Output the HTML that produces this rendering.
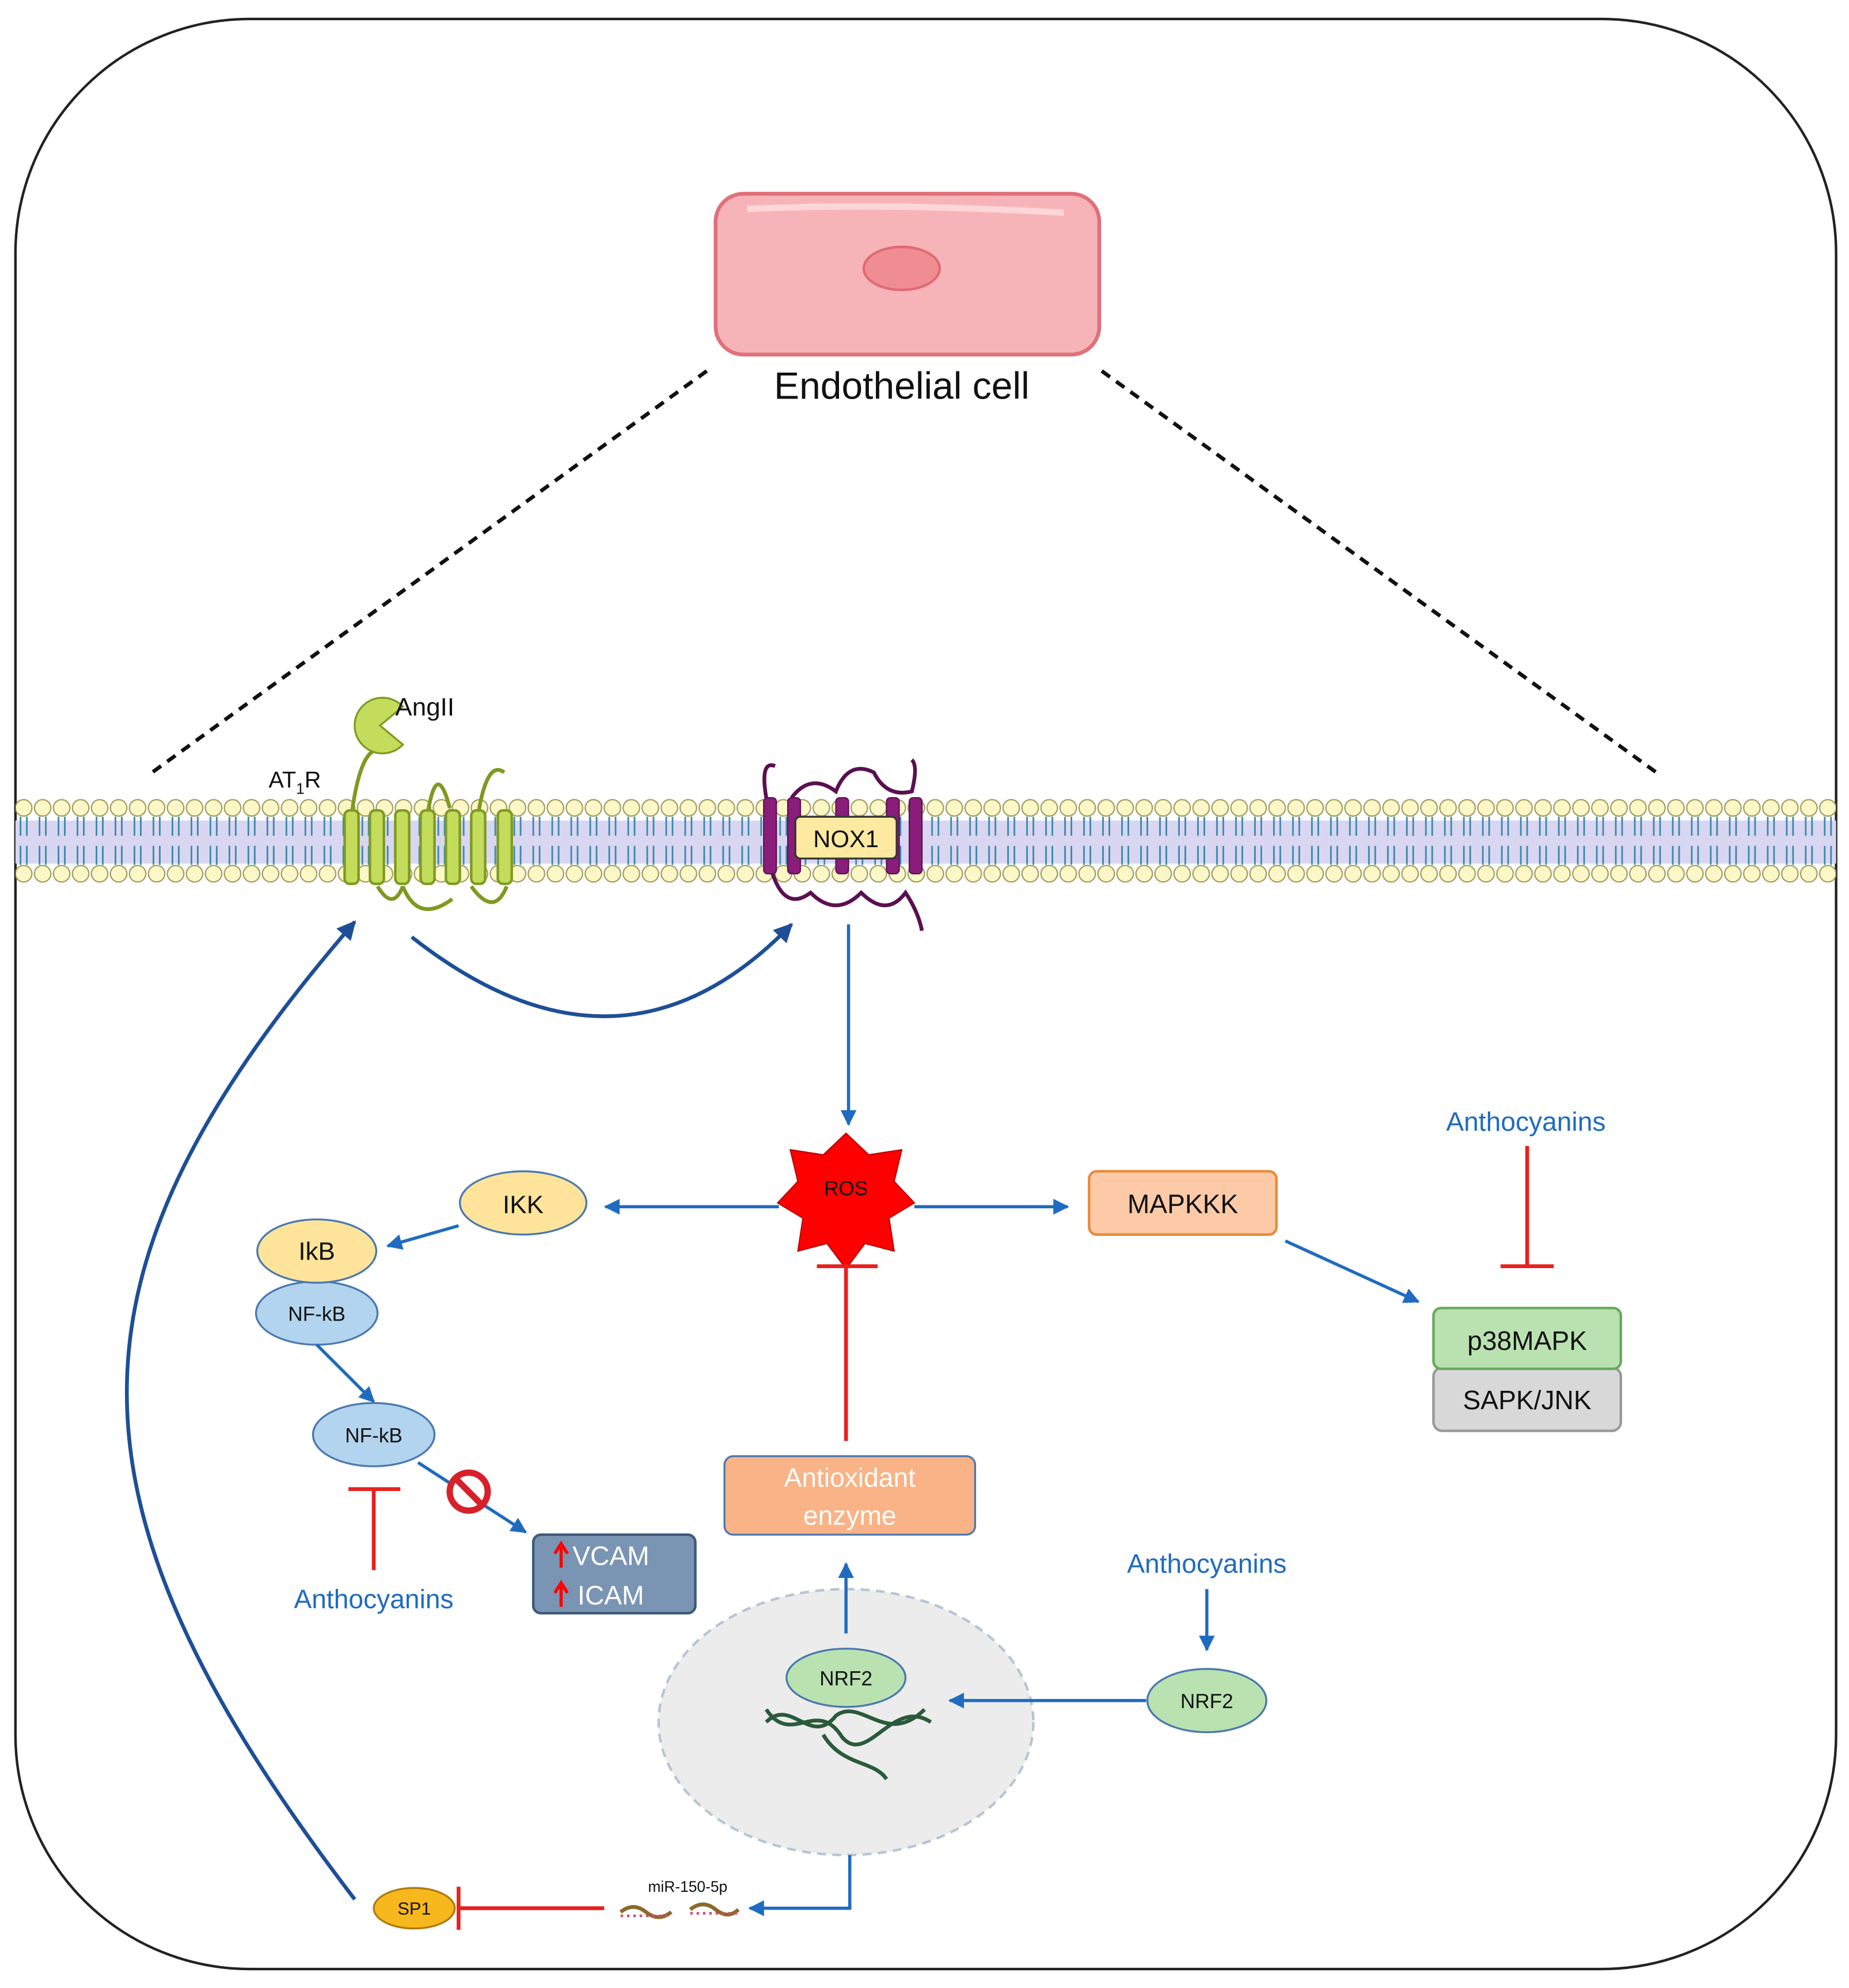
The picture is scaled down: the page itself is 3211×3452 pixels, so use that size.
<!DOCTYPE html>
<html><head><meta charset="utf-8"><style>html,body{margin:0;padding:0;background:#fff}svg{display:block}</style></head>
<body>
<svg width="3211" height="3452" viewBox="0 0 1460 1570" xmlns="http://www.w3.org/2000/svg" font-family="'Liberation Sans', sans-serif">
<defs>
<marker id="ab" viewBox="0 0 10 10" refX="9" refY="5" markerWidth="5" markerHeight="5" orient="auto"><path d="M0,0 L10,5 L0,10 z" fill="#1f6bc0"/></marker>
<marker id="ad" viewBox="0 0 10 10" refX="9" refY="5" markerWidth="5" markerHeight="5" orient="auto"><path d="M0,0 L10,5 L0,10 z" fill="#1e4f96"/></marker>
<pattern id="heads" x="11" y="630" width="15" height="80" patternUnits="userSpaceOnUse">
<circle cx="7.5" cy="8" r="6.5" fill="#fbf7c6" stroke="#a09a5a" stroke-width="1"/>
<circle cx="7.5" cy="60" r="6.5" fill="#fbf7c6" stroke="#a09a5a" stroke-width="1"/>
<path d="M5,15 V30 M10,15 V30 M5,38 V53 M10,38 V53" stroke="#3a8aa8" stroke-width="1.3"/>
</pattern>
</defs>
<rect x="12" y="15" width="1438" height="1540" rx="185" fill="#fff" stroke="#222" stroke-width="2"/>
<!-- cell -->
<rect x="565" y="153" width="303" height="127" rx="22" fill="#f7b4b8" stroke="#e0707a" stroke-width="3"/>
<path d="M590,165 Q700,160 840,168" stroke="#fcd6d8" stroke-width="5" fill="none"/>
<ellipse cx="712" cy="212" rx="30" ry="17" fill="#ef8d93" stroke="#e06a74" stroke-width="2"/>
<text x="712" y="315" font-size="30" text-anchor="middle" fill="#111">Endothelial cell</text>
<path d="M558,293 L120,610 M870,293 L1308,610" stroke="#111" stroke-width="3" stroke-dasharray="8,6"/>
<!-- membrane -->
<rect x="12" y="648" width="1438" height="34" fill="#d9d6f2"/>
<rect x="12" y="630" width="1438" height="80" fill="url(#heads)"/>
<!-- AT1R -->
<g fill="#c4dc5c" stroke="#7e9a20" stroke-width="2">
<rect x="272" y="640" width="11" height="58" rx="4"/><rect x="292" y="640" width="11" height="58" rx="4"/><rect x="312" y="640" width="11" height="58" rx="4"/><rect x="332" y="640" width="11" height="58" rx="4"/><rect x="352" y="640" width="11" height="58" rx="4"/><rect x="372" y="640" width="11" height="58" rx="4"/><rect x="393" y="640" width="11" height="58" rx="4"/>
</g>
<path d="M278,640 Q285,590 300,592 M298,700 Q310,720 318,700 M338,640 Q345,600 355,638 M318,700 Q330,730 357,710 M378,640 Q385,600 398,610 M372,700 Q390,725 400,700" fill="none" stroke="#7e9a20" stroke-width="3"/>
<path d="M300,573 L318,558 A22,22 0 1,0 318,588 Z" fill="#c4dc5c" stroke="#7e9a20" stroke-width="1.5"/>
<text x="312" y="565" font-size="20" fill="#111">AngII</text>
<text x="212" y="622" font-size="18" fill="#111">AT<tspan font-size="12" dy="5">1</tspan><tspan dy="-5">R</tspan></text>
<!-- NOX1 -->
<g fill="#8a1d7a" stroke="#5a1050" stroke-width="1">
<rect x="603" y="630" width="10" height="60" rx="3"/><rect x="622" y="630" width="10" height="60" rx="3"/><rect x="660" y="630" width="10" height="60" rx="3"/><rect x="700" y="630" width="10" height="60" rx="3"/><rect x="718" y="630" width="10" height="60" rx="3"/>
</g>
<path d="M605,630 Q600,600 612,605 M625,630 Q640,610 660,625 Q670,600 690,610 Q700,630 720,625 Q725,605 720,600 M610,690 Q620,720 640,705 Q660,725 680,705 Q700,725 715,705 Q725,720 728,735" fill="none" stroke="#5a1050" stroke-width="3"/>
<rect x="628" y="645" width="80" height="33" rx="4" fill="#fde9a0" stroke="#333" stroke-width="1.5"/>
<text x="668" y="669" font-size="19" text-anchor="middle" fill="#111">NOX1</text>
<!-- arrows -->
<path d="M325,740 Q490,870 625,730" fill="none" stroke="#1e4f96" stroke-width="3" marker-end="url(#ad)"/>
<path d="M670,730 V888" stroke="#1f6bc0" stroke-width="2.5" marker-end="url(#ab)"/>
<path d="M280,1500 C35,1180 45,1000 280,728" fill="none" stroke="#1e4f96" stroke-width="3" marker-end="url(#ad)"/>
<!-- ROS -->
<polygon points="668,895 686,912 712,908 706,933 722,950 702,962 706,988 683,982 668,1002 653,982 630,988 634,962 614,950 630,933 624,908 650,912" fill="#f00" stroke="#b00" stroke-width="1"/>
<text x="668" y="944" font-size="16" text-anchor="middle" fill="#111">ROS</text>
<path d="M615,953 H478" stroke="#1f6bc0" stroke-width="2.5" marker-end="url(#ab)"/>
<path d="M722,953 H843" stroke="#1f6bc0" stroke-width="2.5" marker-end="url(#ab)"/>
<ellipse cx="413" cy="950" rx="50" ry="25" fill="#fde49a" stroke="#4a78b0" stroke-width="1.5"/>
<text x="413" y="958" font-size="20" text-anchor="middle" fill="#111">IKK</text>
<rect x="860" y="925" width="148" height="50" rx="6" fill="#fdcaa8" stroke="#e88a3a" stroke-width="2"/>
<text x="934" y="958" font-size="21" text-anchor="middle" fill="#111">MAPKKK</text>
<path d="M1015,980 L1120,1028" stroke="#1f6bc0" stroke-width="2.5" marker-end="url(#ab)"/>
<rect x="1132" y="1080" width="148" height="50" rx="7" fill="#d8d8d8" stroke="#999" stroke-width="2"/>
<rect x="1132" y="1033" width="148" height="48" rx="6" fill="#b9e2b0" stroke="#6aa85e" stroke-width="2"/>
<text x="1206" y="1066" font-size="21" text-anchor="middle" fill="#111">p38MAPK</text>
<text x="1206" y="1113" font-size="21" text-anchor="middle" fill="#111">SAPK/JNK</text>
<text x="1205" y="893" font-size="21" text-anchor="middle" fill="#1f6bc0">Anthocyanins</text>
<path d="M1206,905 V1000 M1185,1000 H1227" stroke="#e8201e" stroke-width="3"/>
<!-- NF-kB pathway -->
<path d="M362,968 L306,984" stroke="#1f6bc0" stroke-width="2.5" marker-end="url(#ab)"/>
<ellipse cx="250" cy="1037" rx="48" ry="25" fill="#b3d4ee" stroke="#4a78b0" stroke-width="1.5"/>
<text x="250" y="1043" font-size="16" text-anchor="middle" fill="#111">NF-kB</text>
<ellipse cx="250" cy="988" rx="47" ry="25" fill="#fde49a" stroke="#4a78b0" stroke-width="1.5"/>
<text x="250" y="995" font-size="20" text-anchor="middle" fill="#111">IkB</text>
<path d="M250,1062 L295,1107" stroke="#1f6bc0" stroke-width="2.5" marker-end="url(#ab)"/>
<ellipse cx="295" cy="1133" rx="48" ry="25" fill="#b3d4ee" stroke="#4a78b0" stroke-width="1.5"/>
<text x="295" y="1139" font-size="16" text-anchor="middle" fill="#111">NF-kB</text>
<path d="M330,1155 L415,1210" stroke="#1f6bc0" stroke-width="2.5" marker-end="url(#ab)"/>
<circle cx="370" cy="1178" r="15" fill="#fff" stroke="#d8202a" stroke-width="5"/>
<path d="M360,1168 L380,1188" stroke="#d8202a" stroke-width="5"/>
<path d="M295,1240 V1176 M275,1176 H316" stroke="#e8201e" stroke-width="3"/>
<text x="295" y="1270" font-size="21" text-anchor="middle" fill="#1f6bc0">Anthocyanins</text>
<rect x="421" y="1212" width="128" height="62" rx="6" fill="#7a95b3" stroke="#3e5a7c" stroke-width="2"/>
<text x="452" y="1236" font-size="21" fill="#fff">VCAM</text>
<text x="456" y="1267" font-size="21" fill="#fff">ICAM</text>
<path d="M443,1238 V1222 M438,1227 L443,1219 L448,1227 M443,1269 V1253 M438,1258 L443,1250 L448,1258" stroke="#f00" stroke-width="2.5" fill="none"/>
<!-- antioxidant -->
<path d="M668,1138 V1000 M645,1000 H693" stroke="#e8201e" stroke-width="3"/>
<rect x="572" y="1150" width="198" height="62" rx="7" fill="#f9b387" stroke="#4a78b0" stroke-width="1.5"/>
<text x="671" y="1174" font-size="21" text-anchor="middle" fill="#fff">Antioxidant</text>
<text x="671" y="1204" font-size="21" text-anchor="middle" fill="#fff">enzyme</text>
<ellipse cx="668" cy="1360" rx="148" ry="105" fill="#ececec" stroke="#b8c4d4" stroke-width="2" stroke-dasharray="7,5"/>
<path d="M668,1290 V1235" stroke="#1f6bc0" stroke-width="2.5" marker-end="url(#ab)"/>
<path d="M605,1360 C625,1340 640,1380 660,1355 C680,1340 700,1380 730,1350 M605,1350 C625,1380 645,1340 665,1372 C685,1395 705,1340 735,1360 M650,1370 C665,1395 690,1390 700,1405" fill="none" stroke="#2a5a3a" stroke-width="3"/>
<ellipse cx="668" cy="1325" rx="47" ry="23" fill="#b9e2b0" stroke="#4a78b0" stroke-width="1.5"/>
<text x="668" y="1331" font-size="16" text-anchor="middle" fill="#111">NRF2</text>
<text x="953" y="1242" font-size="21" text-anchor="middle" fill="#1f6bc0">Anthocyanins</text>
<path d="M953,1255 V1303" stroke="#1f6bc0" stroke-width="2.5" marker-end="url(#ab)"/>
<ellipse cx="953" cy="1343" rx="47" ry="25" fill="#b9e2b0" stroke="#4a78b0" stroke-width="1.5"/>
<text x="953" y="1349" font-size="16" text-anchor="middle" fill="#111">NRF2</text>
<path d="M905,1343 H750" stroke="#1f6bc0" stroke-width="2.5" marker-end="url(#ab)"/>
<path d="M671,1465 V1507 H592" fill="none" stroke="#1f6bc0" stroke-width="2.5" marker-end="url(#ab)"/>
<text x="543" y="1494" font-size="12" text-anchor="middle" fill="#111">miR-150-5p</text>
<path d="M490,1510 Q500,1502 510,1510 T530,1510 M545,1508 Q555,1500 565,1508 T583,1508" fill="none" stroke="#8a6a2a" stroke-width="3"/>
<path d="M490,1513 H530 M545,1511 H583" stroke="#d84a6a" stroke-width="2" stroke-dasharray="2,3"/>
<path d="M477,1507 H362 M362,1490 V1524" stroke="#e8201e" stroke-width="3"/>
<ellipse cx="327" cy="1507" rx="32" ry="16" fill="#f6b81c" stroke="#b07a10" stroke-width="1.5"/>
<text x="327" y="1512" font-size="14" text-anchor="middle" fill="#111">SP1</text>
</svg>
</body></html>
